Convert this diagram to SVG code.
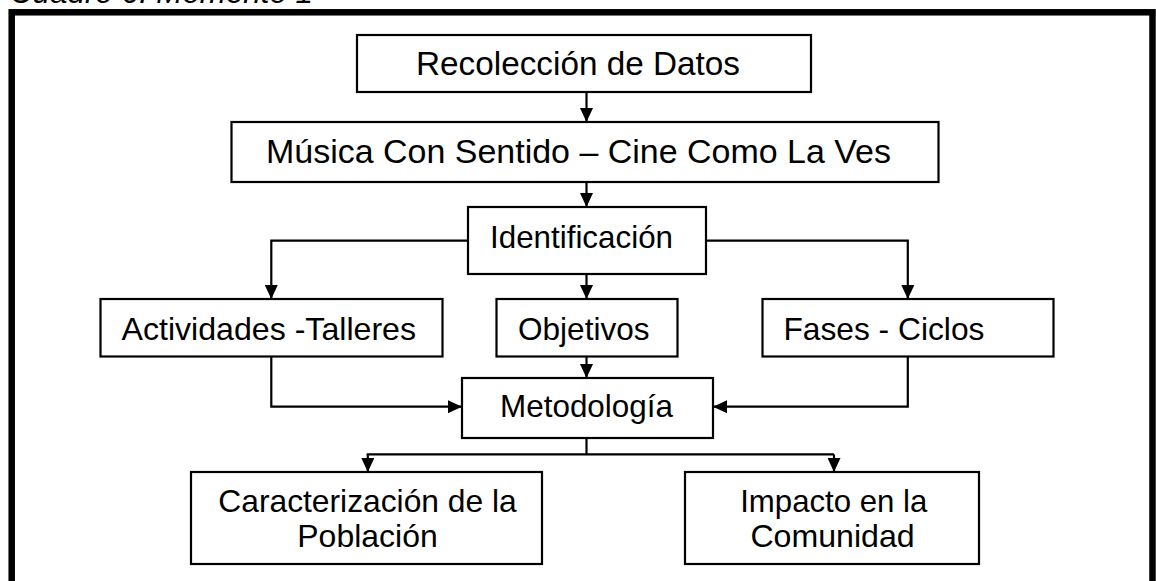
<svg xmlns="http://www.w3.org/2000/svg" width="1156" height="581" viewBox="0 0 1156 581">
<defs>
<marker id="ah" markerUnits="userSpaceOnUse" markerWidth="14" markerHeight="13" refX="14" refY="6.5" orient="auto">
<path d="M0,0 L14,6.5 L0,13 Z" fill="#000"/>
</marker>
<style>
.box{fill:#fff;stroke:#000;stroke-width:2.2}
.t{font-family:"Liberation Sans",Arial,sans-serif;font-size:32px;fill:#000}
.tl{font-size:34px}
.c{fill:none;stroke:#000;stroke-width:2.2}
.a{marker-end:url(#ah)}
</style>
</defs>
<rect width="1156" height="581" fill="#fff"/>
<text x="10" y="3" class="t" font-style="italic" textLength="303" lengthAdjust="spacingAndGlyphs">Cuadro 6. Momento 1</text>
<rect x="11.7" y="12.3" width="1140.8" height="600" fill="none" stroke="#000" stroke-width="6.5"/>
<g id="connectors">
<path class="c a" d="M586.5,92 V122"/>
<path class="c a" d="M586.5,182 V207"/>
<path class="c a" d="M468,240.7 H271.3 V299"/>
<path class="c a" d="M586.5,274 V299"/>
<path class="c a" d="M706,240.7 H907.8 V299"/>
<path class="c a" d="M586.5,356.5 V378"/>
<path class="c a" d="M271.3,356.5 V406.7 H462"/>
<path class="c a" d="M907.8,356.5 V406.7 H713"/>
<path class="c" d="M586.5,438 V454.3"/>
<path class="c" d="M366.7,454.3 H834"/>
<path class="c a" d="M367.8,454.3 V472"/>
<path class="c a" d="M834,454.3 V472"/>
</g>
<g id="n1"><rect class="box" x="357" y="35" width="454" height="57"/><text class="t tl" x="416" y="75" textLength="324" lengthAdjust="spacingAndGlyphs">Recolección de Datos</text></g>
<g id="n2"><rect class="box" x="231.5" y="122" width="707" height="60"/><text class="t tl" x="266" y="163" textLength="625" lengthAdjust="spacingAndGlyphs">Música Con Sentido – Cine Como La Ves</text></g>
<g id="n3"><rect class="box" x="468" y="207" width="238" height="67"/><text class="t" x="490" y="248" textLength="183" lengthAdjust="spacingAndGlyphs">Identificación</text></g>
<g id="n4"><rect class="box" x="100.5" y="299" width="342" height="57.5"/><text class="t" x="121.5" y="340" textLength="294.5" lengthAdjust="spacingAndGlyphs">Actividades -Talleres</text></g>
<g id="n5"><rect class="box" x="496.5" y="299" width="181" height="57.5"/><text class="t" x="518" y="340" textLength="131.5" lengthAdjust="spacingAndGlyphs">Objetivos</text></g>
<g id="n6"><rect class="box" x="762.5" y="299" width="291" height="57.5"/><text class="t" x="783.4" y="340" textLength="201" lengthAdjust="spacingAndGlyphs">Fases - Ciclos</text></g>
<g id="n7"><rect class="box" x="462" y="378" width="251" height="60"/><text class="t" x="500" y="416.7" textLength="173" lengthAdjust="spacingAndGlyphs">Metodología</text></g>
<g id="n8"><rect class="box" x="191" y="472" width="351" height="92"/><text class="t" x="218.3" y="511.7" textLength="298.4" lengthAdjust="spacingAndGlyphs">Caracterización de la</text><text class="t" x="297.3" y="546.7" textLength="140.4" lengthAdjust="spacingAndGlyphs">Población</text></g>
<g id="n9"><rect class="box" x="685" y="472" width="294" height="92"/><text class="t" x="740.2" y="511.7" textLength="187.2" lengthAdjust="spacingAndGlyphs">Impacto en la</text><text class="t" x="750.4" y="546.7" textLength="164.3" lengthAdjust="spacingAndGlyphs">Comunidad</text></g>
</svg>
